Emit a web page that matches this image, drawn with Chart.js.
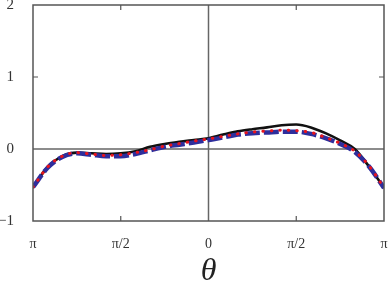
<!DOCTYPE html>
<html><head><meta charset="utf-8">
<script src="https://cdn.jsdelivr.net/npm/chart.js@4/dist/chart.umd.min.js"></script>
<style>html,body{margin:0;padding:0;background:#fff;}canvas{display:block;}</style>
</head><body>
<canvas id="c" width="388" height="291"></canvas>
<script>
const thetaDeg = [-180,-165,-150,-135,-120,-105,-90,-75,-60,-45,-30,-15,0,15,30,45,60,75,90,105,120,135,150,165,180];
const solidBlack = [-0.53,-0.25,-0.10,-0.05,-0.06,-0.07,-0.06,-0.03,0.03,0.07,0.10,0.125,0.15,0.20,0.245,0.275,0.30,0.33,0.34,0.30,0.22,0.12,0.0,-0.25,-0.54];
const dashedBlue = [-0.53,-0.26,-0.11,-0.06,-0.08,-0.10,-0.10,-0.07,-0.02,0.03,0.06,0.09,0.125,0.16,0.20,0.22,0.23,0.24,0.24,0.21,0.15,0.07,-0.04,-0.25,-0.54];
const dottedRed = [-0.53,-0.25,-0.10,-0.05,-0.07,-0.09,-0.08,-0.05,-0.01,0.04,0.075,0.11,0.14,0.175,0.21,0.235,0.25,0.26,0.255,0.23,0.16,0.08,-0.03,-0.24,-0.54];
const xTickLabels = {"-180":"π","-90":"π/2","0":"0","90":"π/2","180":"π"};
const yTickLabels = {"-1":"−1","0":"0","1":"1","2":"2"};

const pts = arr => arr.map((v,i)=>({x:thetaDeg[i], y:v}));

const framePlugin = {
  id:'frame',
  beforeDatasetsDraw(chart){
    const {ctx, chartArea:a, scales:{x,y}} = chart;
    ctx.save();
    ctx.strokeStyle='#666'; ctx.lineWidth=1.5;
    const y0=y.getPixelForValue(0), x0=x.getPixelForValue(0);
    ctx.beginPath(); ctx.moveTo(a.left,y0); ctx.lineTo(a.right,y0); ctx.stroke();
    ctx.beginPath(); ctx.moveTo(x0,a.top); ctx.lineTo(x0,a.bottom); ctx.stroke();
    ctx.restore();
  },
  afterDraw(chart){
    const {ctx, chartArea:a, scales:{x,y}} = chart;
    ctx.save();
    ctx.strokeStyle='#555'; ctx.lineWidth=1.5;
    ctx.strokeRect(a.left,a.top,a.right-a.left,a.bottom-a.top);
    ctx.lineWidth=1.2;
    [-90,90].forEach(v=>{
      const px=x.getPixelForValue(v);
      ctx.beginPath(); ctx.moveTo(px,a.bottom); ctx.lineTo(px,a.bottom-5);
      ctx.moveTo(px,a.top); ctx.lineTo(px,a.top+5); ctx.stroke();
    });
    [1].forEach(v=>{
      const py=y.getPixelForValue(v);
      ctx.beginPath(); ctx.moveTo(a.left,py); ctx.lineTo(a.left+5,py);
      ctx.moveTo(a.right,py); ctx.lineTo(a.right-5,py); ctx.stroke();
    });
    ctx.restore();
  }
};

new Chart(document.getElementById('c'), {
  type:'line',
  data:{datasets:[
    {label:'red', data:pts(dottedRed), borderColor:'#e8141c', borderWidth:3, borderDash:[0.5,8], borderCapStyle:'round', pointRadius:0, cubicInterpolationMode:'monotone', order:0},
    {label:'blue', data:pts(dashedBlue), borderColor:'#2e2e9c', borderWidth:4.5, borderDash:[15,4], pointRadius:0, cubicInterpolationMode:'monotone', order:1},
    {label:'black', data:pts(solidBlack), borderColor:'#111', borderWidth:2.6, pointRadius:0, cubicInterpolationMode:'monotone', order:2}
  ]},
  options:{
    responsive:false, animation:false, devicePixelRatio:1,
    layout:{padding:{top:5,right:4,left:0,bottom:0}},
    plugins:{legend:{display:false}, tooltip:{enabled:false}},
    scales:{
      x:{type:'linear', min:-180, max:180,
        grid:{display:false}, border:{display:false},
        ticks:{stepSize:90, padding:7, color:'#333', font:{family:'Liberation Serif', size:14}, maxRotation:0,
          callback:v=>xTickLabels[String(v)] ?? ''},
        title:{display:true, text:'θ', color:'#222', font:{family:'Liberation Serif', size:32, style:'italic'}, padding:{top:2,bottom:0}},
        afterFit(s){ s.height=70; s.paddingLeft=0; s.paddingRight=0; }
      },
      y:{type:'linear', min:-1, max:2,
        grid:{display:false}, border:{display:false},
        ticks:{stepSize:1, padding:11, color:'#333', font:{family:'Liberation Serif', size:15},
          callback:v=>yTickLabels[String(v)] ?? ''},
        afterFit(s){ s.width=33; s.paddingTop=0; s.paddingBottom=0; }
      }
    }
  },
  plugins:[framePlugin]
});
</script>
</body></html>
